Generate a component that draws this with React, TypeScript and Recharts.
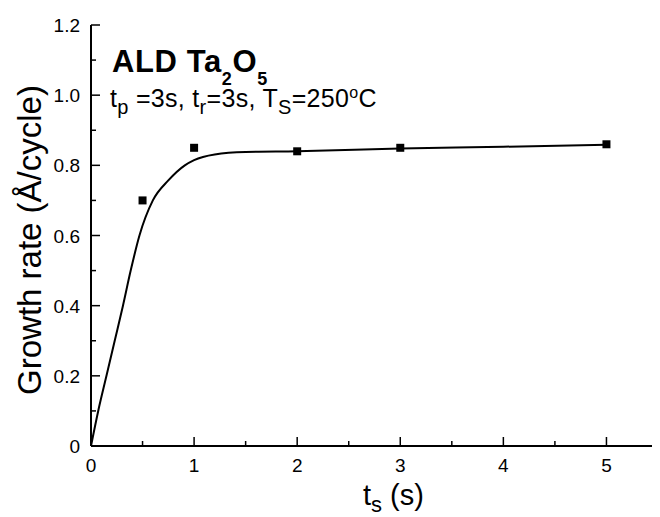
import { ComposedChart, XAxis, YAxis, Line, Scatter } from 'recharts';

// measured growth rate points (t_s in s, rate in Å/cycle)
const pulseTimes = [0.5, 1, 2, 3, 5];
const growthRates = [0.70, 0.85, 0.84, 0.85, 0.86];

// fitted curve
const fitTimes = [0, 0.07, 0.15, 0.23, 0.31, 0.385, 0.47, 0.6, 0.75, 0.91, 1.0, 1.2, 1.5, 2, 3, 4, 5];
const fitRates = [0, 0.1, 0.2, 0.3, 0.4, 0.5, 0.6, 0.7, 0.757, 0.8, 0.815, 0.831, 0.838, 0.840, 0.848, 0.853, 0.859];

const xTicks = [0, 0.5, 1, 1.5, 2, 2.5, 3, 3.5, 4, 4.5, 5];
const yTicks = [0, 0.1, 0.2, 0.3, 0.4, 0.5, 0.6, 0.7, 0.8, 0.9, 1.0, 1.1, 1.2];

const FONT = '"Liberation Sans", Arial, sans-serif';

const points = pulseTimes.map((t, i) => ({ t, rate: growthRates[i] }));
const fit = fitTimes.map((t, i) => ({ t, fit: fitRates[i] }));

function XTick(props: any) {
  const { x, y, payload } = props;
  const v = payload.value as number;
  const major = Math.abs(v - Math.round(v)) < 1e-6;
  return (
    <g>
      <line x1={x} x2={x} y1={y} y2={y - (major ? 9 : 5)} stroke="#000" strokeWidth={1.5} />
      {major && (
        <text x={x} y={y + 26} textAnchor="middle" fontSize={19} fontFamily={FONT} fill="#000">
          {v}
        </text>
      )}
    </g>
  );
}

function YTick(props: any) {
  const { x, y, payload } = props;
  const v = payload.value as number;
  const major = Math.round(v * 10) % 2 === 0;
  return (
    <g>
      <line x1={x} x2={x + (major ? 9 : 5)} y1={y} y2={y} stroke="#000" strokeWidth={1.5} />
      {major && (
        <text x={x - 11} y={y + 7} textAnchor="end" fontSize={19} fontFamily={FONT} fill="#000">
          {v === 0 ? '0' : v.toFixed(1)}
        </text>
      )}
    </g>
  );
}

export default function App() {
  return (
    <div style={{ position: 'relative', width: 660, height: 517, margin: '-8px 0 0 -8px', background: '#fff' }}>
      <ComposedChart width={660} height={517} margin={{ top: 25, right: 2, left: 0, bottom: 0 }}>
        <XAxis
          type="number"
          dataKey="t"
          domain={[0, 5.5]}
          ticks={xTicks}
          interval={0}
          tickLine={false}
          tickSize={0}
          tickMargin={0}
          height={71}
          axisLine={{ stroke: '#000', strokeWidth: 2 }}
          tick={<XTick />}
          allowDuplicatedCategory={false}
        />
        <YAxis
          type="number"
          domain={[0, 1.2]}
          ticks={yTicks}
          interval={0}
          tickLine={false}
          tickSize={0}
          tickMargin={0}
          width={91}
          axisLine={{ stroke: '#000', strokeWidth: 2 }}
          tick={<YTick />}
        />
        <Line
          data={fit}
          dataKey="fit"
          type="monotone"
          stroke="#000"
          strokeWidth={2}
          dot={false}
          activeDot={false}
          isAnimationActive={false}
        />
        <Scatter data={points} dataKey="rate" shape="square" fill="#000" isAnimationActive={false} />
      </ComposedChart>

      <svg width={660} height={517} style={{ position: 'absolute', left: 0, top: 0, pointerEvents: 'none' }}>
        <text x={112} y={72} fontSize={31} fontWeight="bold" fontFamily={FONT} fill="#000" letterSpacing={0.6}>
          ALD Ta<tspan dy={13} fontSize={18}>2</tspan>
          <tspan dy={-13}>O</tspan>
          <tspan dy={13} fontSize={18}>5</tspan>
        </text>
        <text x={110} y={107} fontSize={25} fontFamily={FONT} fill="#000" letterSpacing={0.3}>
          t<tspan dy={7} fontSize={20}>p</tspan>
          <tspan dy={-7}> =3s, t</tspan>
          <tspan dy={7} fontSize={20}>r</tspan>
          <tspan dy={-7}>=3s, T</tspan>
          <tspan dy={7} fontSize={20}>S</tspan>
          <tspan dy={-7}>=250</tspan>
          <tspan dy={-9} fontSize={16}>o</tspan>
          <tspan dy={9}>C</tspan>
        </text>
        <text
          transform="translate(41, 240) rotate(-90)"
          textAnchor="middle"
          fontSize={33}
          fontFamily={FONT}
          fill="#000"
        >
          Growth rate (Å/cycle)
        </text>
        <text x={363} y={505} fontSize={29} fontFamily={FONT} fill="#000">
          t<tspan dy={7} fontSize={22}>s</tspan>
          <tspan dy={-7}> (s)</tspan>
        </text>
      </svg>
    </div>
  );
}
